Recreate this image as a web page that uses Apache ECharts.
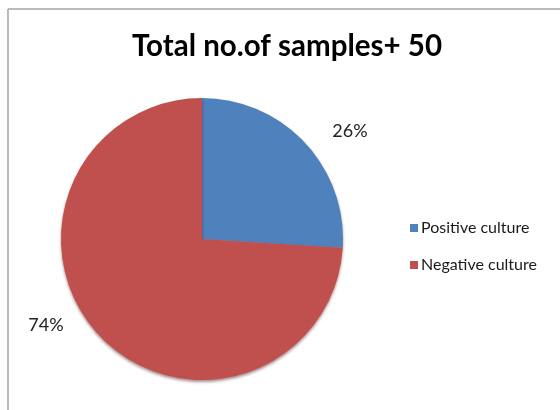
<!DOCTYPE html>
<html>
<head>
<meta charset="utf-8">
<script src="https://cdn.jsdelivr.net/npm/echarts@6/dist/echarts.min.js"></script>
<style>
  html, body { margin: 0; padding: 0; background: #fff; }
  #chart { width: 560px; height: 410px; }
</style>
</head>
<body>
<div id="chart"></div>
<script>
// chart data
const categories = ['Positive culture', 'Negative culture']
const values = [26, 74]
const colors = ['#4F81BD', '#C0504D']
const labelSpots = [[350, 131], [46, 325]]

const chart = echarts.init(document.getElementById('chart'))

const option = {
  backgroundColor: '#fff',
  animation: false,
  title: {
    text: 'Total no.of samples+ 50',
    left: 282,
    top: 26,
    textAlign: 'center',
    textStyle: {
      fontFamily: 'Lato',
      fontWeight: 'bold',
      fontSize: 29.5,
      color: '#000'
    }
  },
  legend: {
    orient: 'vertical',
    left: 405,
    top: 215,
    itemWidth: 8,
    itemHeight: 8,
    itemGap: 21,
    icon: 'rect',
    data: categories,
    textStyle: {
      fontFamily: 'Lato',
      fontSize: 16,
      color: '#1a1a1a',
      padding: [0, 0, 0, -2]
    }
  },
  graphic: [
    { type: 'line', shape: { x1: 8, y1: 9, x2: 560, y2: 9 }, style: { stroke: '#a6a6a6', lineWidth: 1.5 } },
    { type: 'line', shape: { x1: 8, y1: 9, x2: 8, y2: 410 }, style: { stroke: '#a6a6a6', lineWidth: 1.5 } }
  ],
  series: [
    {
      type: 'pie',
      center: [202, 239],
      radius: 141,
      startAngle: 90,
      clockwise: true,
      data: categories.map((name, i) => ({
        name,
        value: values[i],
        itemStyle: { color: colors[i] }
      })),
      itemStyle: {
        borderWidth: 0,
        shadowBlur: 3,
        shadowOffsetY: 2,
        shadowColor: 'rgba(60,0,0,0.45)'
      },
      label: {
        show: true,
        position: 'outside',
        formatter: p => p.value + '%',
        fontFamily: 'Lato',
        fontSize: 18,
        color: '#222'
      },
      labelLine: { show: false },
      labelLayout: params => ({
        x: labelSpots[params.dataIndex][0],
        y: labelSpots[params.dataIndex][1],
        align: 'center',
        verticalAlign: 'middle'
      }),
      emphasis: { disabled: true }
    }
  ]
}

chart.setOption(option)
</script>
</body>
</html>
